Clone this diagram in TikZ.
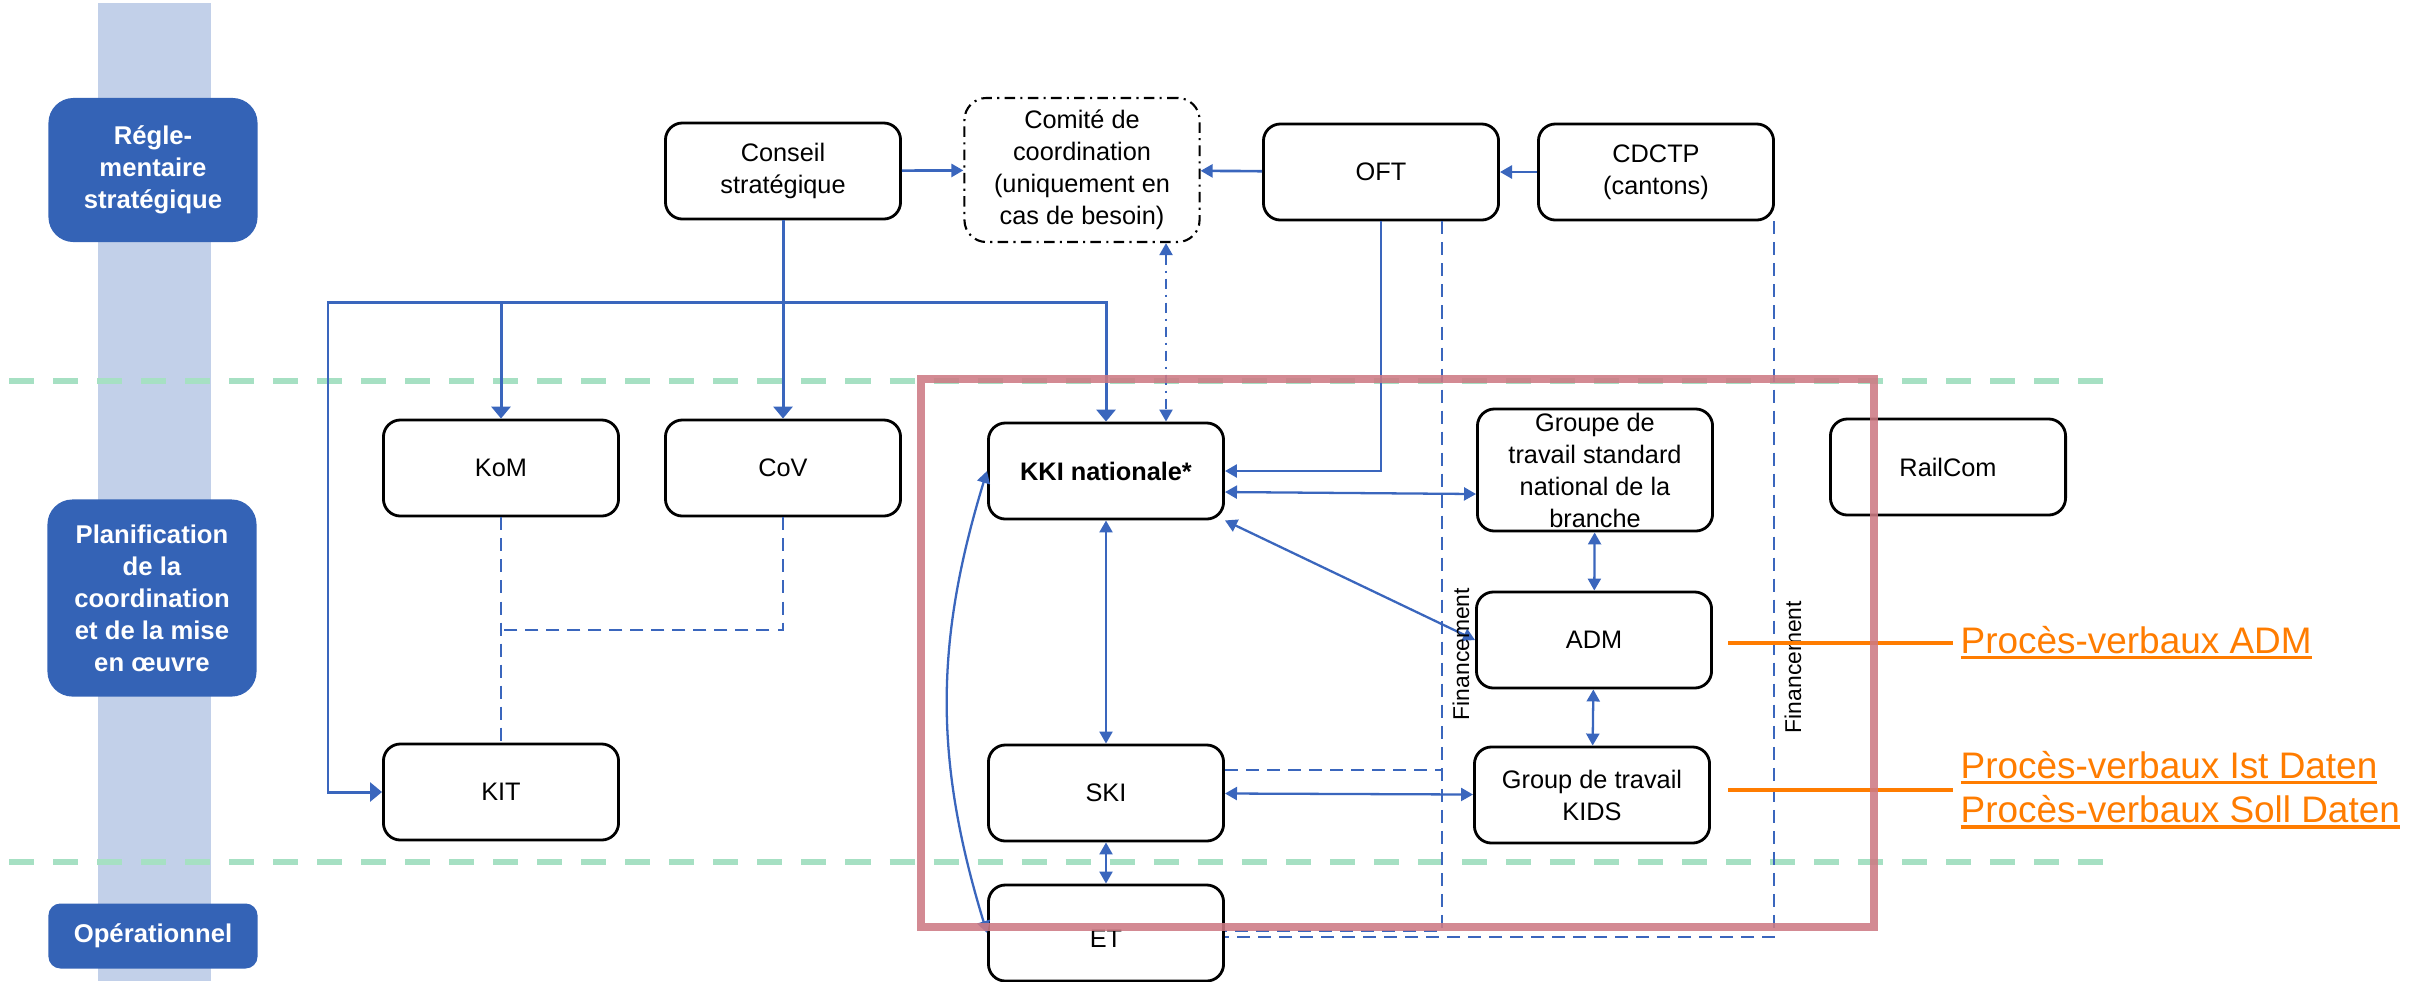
\documentclass[tikz,border=0pt]{standalone}
\usepackage{fontspec}
\setmainfont{Liberation Sans}
\usetikzlibrary{arrows.meta,calc}

\definecolor{lineBlue}{RGB}{58,102,189}
\definecolor{levelBlue}{RGB}{52,99,182}
\definecolor{bandBlue}{RGB}{194,208,233}
\definecolor{sepGreen}{RGB}{166,224,195}
\definecolor{frameRed}{RGB}{205,122,132}
\definecolor{noteOrange}{RGB}{255,124,0}

\newcommand{\pvul}[1]{\leavevmode\setbox0=\hbox{#1}\rlap{\rule[-0.15em]{\wd0}{0.1em}}\box0}

\tikzset{
  box/.style={draw, rounded corners=0.17cm, line width=0.8pt, minimum width=2.35cm,
    minimum height=0.96cm, align=center, inner sep=0pt, font=\fontsize{7.2}{9.1}\selectfont},
  tier/.style={fill=levelBlue, text=white, rounded corners=0.25cm, minimum width=2.09cm,
    align=center, inner sep=0pt, font=\fontsize{7.3}{9.1}\selectfont\bfseries},
  conn/.style={draw=lineBlue, line width=0.85pt, -{Triangle[length=0.12cm,width=0.19cm]}},
  feed/.style={draw=lineBlue, line width=0.75pt, -{Triangle[length=0.12cm,width=0.13cm]}},
  link/.style={draw=lineBlue, line width=0.65pt,
    {Triangle[length=0.12cm,width=0.13cm]}-{Triangle[length=0.12cm,width=0.13cm]}},
  fund/.style={draw=lineBlue, line width=0.7pt, dash pattern=on 0.13cm off 0.08cm},
  zoneline/.style={draw=sepGreen, line width=1.45pt, dash pattern=on 0.25cm off 0.19cm},
  note/.style={text=noteOrange, anchor=west, align=left, inner sep=0.07cm,
    font=\fontsize{10.5}{12.6}\selectfont},
  fin/.style={rotate=90, inner sep=0pt, font=\fontsize{6.5}{7}\selectfont},
}

\begin{document}
\begin{tikzpicture}[x=0.01cm, y=-0.01cm]
  \useasboundingbox (0,0) rectangle (2415,981);
  % Levels
  \fill[bandBlue] (98,3) rectangle (211,981);
  \draw[zoneline] (9,381) -- (2113,381);
  \draw[zoneline] (9,862) -- (2113,862);
  \node[tier, minimum height=1.44cm] (strat) at (153,170) {Régle-\\mentaire\\stratégique};
  \node[tier, minimum height=1.97cm] (plan) at (152,598) {Planification\\de la\\coordination\\et de la mise\\en œuvre};
  \node[tier, minimum height=0.65cm, rounded corners=0.12cm] (oper) at (153,936) {Opérationnel};

  % Bodies
  \node[box] (conseil) at (783,171) {Conseil\\stratégique};
  \node[box, minimum height=1.44cm, line width=0.6pt, rounded corners=0.22cm,
    dash pattern=on 3pt off 1.5pt on 0.6pt off 1.5pt] (comite) at (1082,170)
    {Comité de\\coordination\\(uniquement en\\cas de besoin)};
  \node[box] (oft) at (1381,172) {OFT};
  \node[box] (cdctp) at (1656,172) {CDCTP\\(cantons)};
  \node[box] (kom) at (501,468) {KoM};
  \node[box] (cov) at (783,468) {CoV};
  \node[box] (kki) at (1106,471) {\textbf{KKI nationale*}};
  \node[box, minimum height=1.22cm] (gts) at (1595,470) {Groupe de\\travail standard\\national de la\\branche};
  \node[box] (railcom) at (1948,467) {RailCom};
  \node[box] (adm) at (1594,640) {ADM};
  \node[box] (kit) at (501,792) {KIT};
  \node[box] (ski) at (1106,793) {SKI};
  \node[box] (kids) at (1592,795) {Group de travail\\KIDS};
  \node[box] (et) at (1106,933) {\raisebox{-0.14cm}[0pt][0pt]{ET}};

  % Strategic links
  \coordinate (lft) at (328,302);
  \draw[feed] (conseil) -- (comite);
  \draw[feed] (oft) -- (comite);
  \draw[feed] (cdctp) -- (oft);
  \draw[conn] (conseil) -- (cov);
  \draw[conn] (conseil.south |- lft) -| (kom.north);
  \draw[conn] (conseil.south |- lft) -| (kki.north);
  \draw[conn] (conseil.south |- lft) -- (lft) |- (kit.west);
  \draw[feed] (oft.south) |- (kki.east);
  \coordinate (cdk) at ($(kki.north)+(60,0)$);
  \draw[link, dash pattern=on 0.1cm off 0.06cm on 0.02cm off 0.06cm] (comite.south -| cdk) -- (cdk);

  % KKI links
  \draw[link] ([yshift=-0.21cm]kki.east) -- ([yshift=-0.24cm]gts.west);
  \draw[link] (kki.south east) -- (adm.west);
  \draw[link] (gts) -- (adm);
  \draw[link] (adm) -- (kids);
  \draw[link] (kki) -- (ski);
  \draw[link] (ski) -- (et);
  \draw[link] (ski) -- (kids);
  \draw[link] (kki.west) to[bend right=17] (et.west);

  % KoM, CoV
  \coordinate (mid) at ($(kom.south)!0.5!(kit.north)$);
  \draw[fund] (kom) -- (kit);
  \draw[fund] (cov.south) |- (mid);

  % Financement
  \coordinate (fa) at (1442,931);
  \coordinate (fb) at (1774,937);
  \coordinate (sk) at ([yshift=0.23cm]ski.east);
  \draw[fund] (oft.south -| fa) -- (fa) -- (et.east |- fa);
  \draw[fund] (cdctp.south -| fb) -- (fb) -- (et.east |- fb);
  \draw[fund] (sk) -- (sk -| fa);
  \node[fin] (fin1) at (1461,654) {Financement};
  \node[fin] (fin2) at (1793,667) {Financement};

  % Minutes
  \node[note] (pvadm) at (1953,643) {\pvul{Procès-verbaux ADM}};
  \node[note] (pvdat) at (1953,790) {\pvul{Procès-verbaux Ist Daten}\\\pvul{Procès-verbaux Soll Daten}};
  \coordinate (oa) at ([xshift=0.15cm]adm.east);
  \coordinate (ob) at ([xshift=0.17cm]kids.east);
  \draw[noteOrange, line width=0.04cm] (oa |- pvadm.west) -- (pvadm.west);
  \draw[noteOrange, line width=0.04cm] (ob |- pvdat.west) -- (pvdat.west);

  % Scope frame
  \draw[frameRed, line width=0.08cm, opacity=0.88] (921,379) rectangle (1874,927);
\end{tikzpicture}
\end{document}
